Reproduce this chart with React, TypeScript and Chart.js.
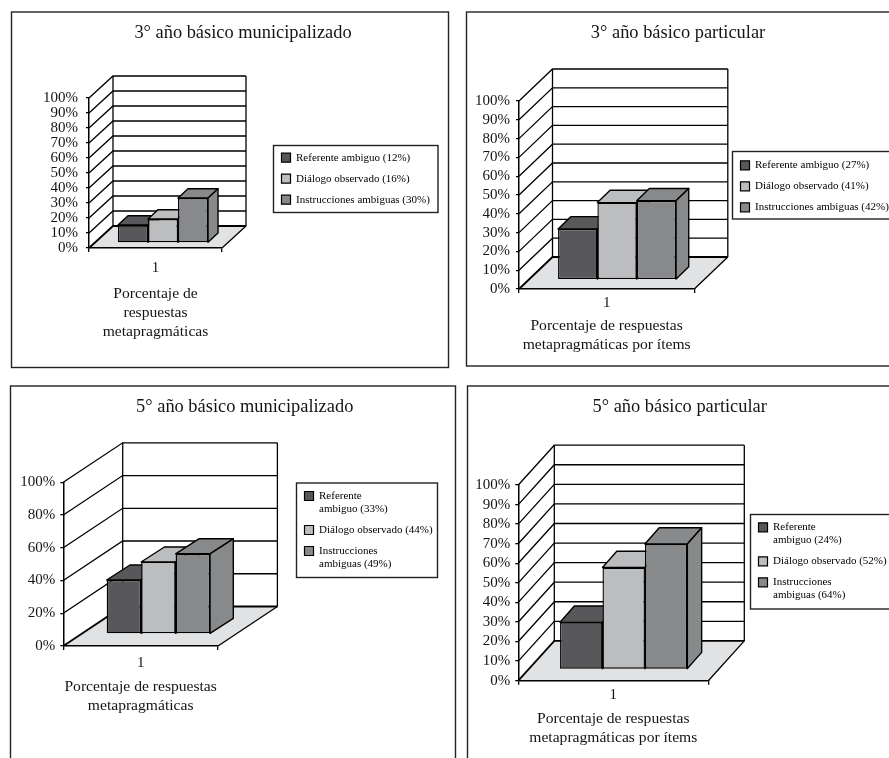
import React, { useEffect, useRef } from "react";
import { Chart, registerables } from "chart.js";

Chart.register(...registerables);

const SERIF = "'Liberation Serif', 'Times New Roman', serif";
const INK = "#141414";
const FLOOR = "#e1e2e4";

const categories = ["1"];
const seriesColors = ["#58585a", "#bcbdbf", "#88898b"];

const titles = [
  "3° año básico municipalizado",
  "3° año básico particular",
  "5° año básico municipalizado",
  "5° año básico particular",
];

const values3Municipal = [12, 16, 30];
const values3Particular = [27, 41, 42];
const values5Municipal = [33, 44, 49];
const values5Particular = [24, 52, 64];

const legend3Municipal = [["Referente ambiguo (12%)"], ["Diálogo observado (16%)"], ["Instrucciones ambiguas (30%)"]];
const legend3Particular = [["Referente ambiguo (27%)"], ["Diálogo observado (41%)"], ["Instrucciones ambiguas (42%)"]];
const legend5Municipal = [["Referente", "ambiguo (33%)"], ["Diálogo observado (44%)"], ["Instrucciones", "ambiguas (49%)"]];
const legend5Particular = [["Referente", "ambiguo (24%)"], ["Diálogo observado (52%)"], ["Instrucciones", "ambiguas (64%)"]];

const axisTitle3Municipal = ["Porcentaje de", "respuestas", "metapragmáticas"];
const axisTitle3Particular = ["Porcentaje de respuestas", "metapragmáticas por ítems"];
const axisTitle5Municipal = ["Porcentaje de respuestas", "metapragmáticas"];
const axisTitle5Particular = ["Porcentaje de respuestas", "metapragmáticas por ítems"];

const yStep3Municipal = 10;
const yStep3Particular = 10;
const yStep5Municipal = 20;
const yStep5Particular = 10;

// Layout of each panel, in page pixels
const panels = [
  {
    title: titles[0], values: values3Municipal, legend: legend3Municipal, axisTitle: axisTitle3Municipal, step: yStep3Municipal,
    frame: [11.5, 12, 437, 355.5], canvas: [8, 8, 444, 364],
    plot: { left: 89, right: 222, top: 98, bottom: 248 }, wall: [24, -22],
    bars: { tx: 7.5, ty: -5, share: 0.677, dx: 10, dy: -9.3 },
    titleAt: [243, 33.3], tickPad: 7, yPad: 8, xHeight: 93.2,
    legendBox: [273.5, 145.5, 164.5, 67], legendFirst: 157.7,
  },
  {
    title: titles[1], values: values3Particular, legend: legend3Particular, axisTitle: axisTitle3Particular, step: yStep3Particular,
    frame: [466.5, 12, 440, 354], canvas: [463, 8, 450, 364],
    plot: { left: 519, right: 694.3, top: 101, bottom: 289 }, wall: [33.5, -32],
    bars: { tx: 10.4, ty: -9.3, share: 0.673, dx: 12.7, dy: -12.3 },
    titleAt: [678, 33], tickPad: 0.7, yPad: 6, xHeight: 65.5,
    legendBox: [732.5, 151.5, 165, 67.5], legendFirst: 165.3,
  },
  {
    title: titles[2], values: values5Municipal, legend: legend5Municipal, axisTitle: axisTitle5Municipal, step: yStep5Municipal,
    frame: [10.5, 386, 445, 400], canvas: [7, 382, 450, 410],
    plot: { left: 63.3, right: 218, top: 482.3, bottom: 646 }, wall: [59.4, -39.5],
    bars: { tx: 17.7, ty: -12, share: 0.668, dx: 23.3, dy: -15 },
    titleAt: [244.7, 407.3], tickPad: 4, yPad: 5, xHeight: 69.5,
    legendBox: [296.5, 483, 141, 94.5], legendFirst: 496,
  },
  {
    title: titles[3], values: values5Particular, legend: legend5Particular, axisTitle: axisTitle5Particular, step: yStep5Particular,
    frame: [467.5, 386, 440, 400], canvas: [464, 382, 450, 410],
    plot: { left: 518.3, right: 708.3, top: 485, bottom: 680.7 }, wall: [36, -39.8],
    bars: { tx: 10.4, ty: -11.4, share: 0.67, dx: 14.3, dy: -16.3 },
    titleAt: [679.7, 407.3], tickPad: 1.3, yPad: 5, xHeight: 66.5,
    legendBox: [750.5, 514.5, 150, 94.5], legendFirst: 527.3,
  },
];

const TITLE_SIZE = 18.4;
const TICK_SIZE = 15;
const AXIS_TITLE_SIZE = 15.6;
const LEGEND_SIZE = 11;
const LEGEND_PAD = 8;

function segment(ctx: CanvasRenderingContext2D, pts: number[][]) {
  ctx.beginPath();
  pts.forEach((p, i) => (i ? ctx.lineTo(p[0], p[1]) : ctx.moveTo(p[0], p[1])));
  ctx.stroke();
}

function polygon(ctx: CanvasRenderingContext2D, pts: number[][], fill: string) {
  ctx.beginPath();
  pts.forEach((p, i) => (i ? ctx.lineTo(p[0], p[1]) : ctx.moveTo(p[0], p[1])));
  ctx.closePath();
  ctx.fillStyle = fill;
  ctx.fill();
  ctx.stroke();
}

function makeScenePlugin(panel: any) {
  const ox = panel.canvas[0];
  const oy = panel.canvas[1];
  return {
    id: "scene3d",
    beforeDraw(chart: any) {
      const ctx = chart.ctx;
      const [dx, dy] = panel.wall;
      const { x: xs, y: ys } = chart.scales;
      const L = xs.left, R = xs.right, B = ys.bottom, T = ys.top;
      ctx.save();
      ctx.fillStyle = "#ffffff";
      ctx.fillRect(0, 0, chart.width, chart.height);
      ctx.strokeStyle = "#222222";
      ctx.lineWidth = 1.4;
      ctx.strokeRect(panel.frame[0] - ox, panel.frame[1] - oy, panel.frame[2], panel.frame[3]);

      // Legend box
      const [lx, ly, lw, lh] = panel.legendBox;
      ctx.strokeRect(lx - ox, ly - oy, lw, lh);

      // Floor
      ctx.strokeStyle = "#000000";
      ctx.beginPath();
      ctx.moveTo(L, B);
      ctx.lineTo(R, B);
      ctx.lineTo(R + dx, B + dy);
      ctx.lineTo(L + dx, B + dy);
      ctx.closePath();
      ctx.fillStyle = FLOOR;
      ctx.fill();

      // Walls and gridlines, taken from the value scale
      ys.ticks.forEach((t: any) => {
        const py = ys.getPixelForValue(t.value);
        ctx.lineWidth = t.value === 0 ? 1.8 : 1.3;
        segment(ctx, [[L, py], [L + dx, py + dy], [R + dx, py + dy]]);
      });
      ctx.lineWidth = 1.3;
      segment(ctx, [[L + dx, T + dy], [L + dx, B + dy]]);
      segment(ctx, [[R + dx, T + dy], [R + dx, B + dy]]);
      segment(ctx, [[R, B], [R + dx, B + dy]]);
      ctx.restore();

      // Pin the title and the legend where the reference has them
      const title = chart.titleBlock;
      title.left = panel.titleAt[0] - ox - 200;
      title.right = panel.titleAt[0] - ox + 200;
      title.top = panel.titleAt[1] - oy - TITLE_SIZE / 2;
      const legend = chart.legend;
      legend.left = lx - ox;
      legend.right = lx - ox + 300;
      legend.top = panel.legendFirst - oy - LEGEND_SIZE / 2 - LEGEND_PAD;
      legend.bottom = legend.top + 300;
    },
    beforeDatasetsDraw(chart: any) {
      const ctx = chart.ctx;
      const { tx, ty, dx, dy } = panel.bars;
      ctx.save();
      ctx.translate(tx, ty);
      ctx.strokeStyle = "#000000";
      ctx.lineWidth = 1.4;
      ctx.lineJoin = "round";
      chart.data.datasets.forEach((ds: any, i: number) => {
        const bar = chart.getDatasetMeta(i).data[0];
        const l = bar.x - bar.width / 2;
        const r = bar.x + bar.width / 2;
        const top = bar.y;
        const base = bar.base;
        polygon(ctx, [[l, top], [l + dx, top + dy], [r + dx, top + dy], [r, top]], ds.backgroundColor);
        polygon(ctx, [[r, top], [r + dx, top + dy], [r + dx, base + dy], [r, base]], ds.backgroundColor);
      });
    },
    afterDatasetsDraw(chart: any) {
      chart.ctx.restore();
    },
  };
}

function Panel({ panel }: { panel: any }) {
  const ref = useRef<HTMLCanvasElement | null>(null);
  useEffect(() => {
    const [ox, oy, W, H] = panel.canvas;
    const pLeft = panel.plot.left - ox;
    const pRight = panel.plot.right - ox;
    const pTop = panel.plot.top - oy;
    const pBottom = panel.plot.bottom - oy;
    const chart = new Chart(ref.current as HTMLCanvasElement, {
      type: "bar",
      data: {
        labels: categories,
        datasets: panel.values.map((v: number, i: number) => ({
          label: panel.legend[i].join(" "),
          data: [v],
          backgroundColor: seriesColors[i],
          borderColor: "#000000",
          borderWidth: 1.4,
          borderSkipped: false,
          clip: false,
          barPercentage: 1,
          categoryPercentage: panel.bars.share,
        })),
      },
      options: {
        responsive: false,
        animation: false,
        devicePixelRatio: 1,
        layout: {
          padding: {
            left: 2,
            right: W - pRight,
            top: pTop - TITLE_SIZE,
            bottom: H - pBottom - panel.xHeight,
          },
        },
        plugins: {
          tooltip: { enabled: false },
          title: {
            display: true,
            text: panel.title,
            color: INK,
            padding: 0,
            font: { family: SERIF, size: TITLE_SIZE, weight: "normal", lineHeight: 1 },
          },
          legend: {
            display: true,
            position: "chartArea",
            align: "start",
            maxWidth: 400,
            labels: {
              boxWidth: 9,
              boxHeight: 9,
              padding: LEGEND_PAD,
              color: INK,
              font: { family: SERIF, size: LEGEND_SIZE, lineHeight: 13 / LEGEND_SIZE },
              generateLabels: (c: any) =>
                c.data.datasets.map((ds: any, i: number) => ({
                  text: panel.legend[i],
                  fillStyle: ds.backgroundColor,
                  strokeStyle: "#000000",
                  lineWidth: 1.2,
                  hidden: false,
                  datasetIndex: i,
                })),
            },
          },
        },
        scales: {
          x: {
            type: "category",
            offset: true,
            afterFit: (s: any) => {
              s.height = panel.xHeight;
            },
            border: { display: true, color: "#000000", width: 1.5 },
            grid: { display: true, offset: true, drawOnChartArea: false, drawTicks: true, tickLength: 4, color: "#000000", lineWidth: 1.3 },
            ticks: {
              color: INK,
              padding: panel.tickPad,
              maxRotation: 0,
              font: { family: SERIF, size: TICK_SIZE, lineHeight: 1.2 },
            },
            title: {
              display: true,
              text: panel.axisTitle,
              color: INK,
              padding: 0,
              font: { family: SERIF, size: AXIS_TITLE_SIZE, lineHeight: 19 / AXIS_TITLE_SIZE },
            },
          },
          y: {
            type: "linear",
            min: 0,
            max: 100,
            afterFit: (s: any) => {
              s.width = pLeft - 2;
            },
            border: { display: true, color: "#000000", width: 1.5 },
            grid: { display: true, drawOnChartArea: false, drawTicks: true, tickLength: 3, color: "#000000", lineWidth: 1.3 },
            ticks: {
              stepSize: panel.step,
              autoSkip: false,
              color: INK,
              padding: panel.yPad,
              font: { family: SERIF, size: TICK_SIZE },
              callback: (v: any) => `${v}%`,
            },
          },
        },
      },
      plugins: [makeScenePlugin(panel)],
    } as any);
    return () => chart.destroy();
  }, [panel]);
  const [ox, oy, W, H] = panel.canvas;
  return (
    <canvas
      ref={ref}
      width={W}
      height={H}
      style={{ position: "absolute", left: ox, top: oy, width: W, height: H, display: "block" }}
    />
  );
}

export default function App() {
  return (
    <div style={{ position: "absolute", left: 0, top: 0, width: 889, height: 758, overflow: "hidden", background: "#ffffff" }}>
      {panels.map((p) => (
        <Panel key={p.title} panel={p} />
      ))}
    </div>
  );
}
